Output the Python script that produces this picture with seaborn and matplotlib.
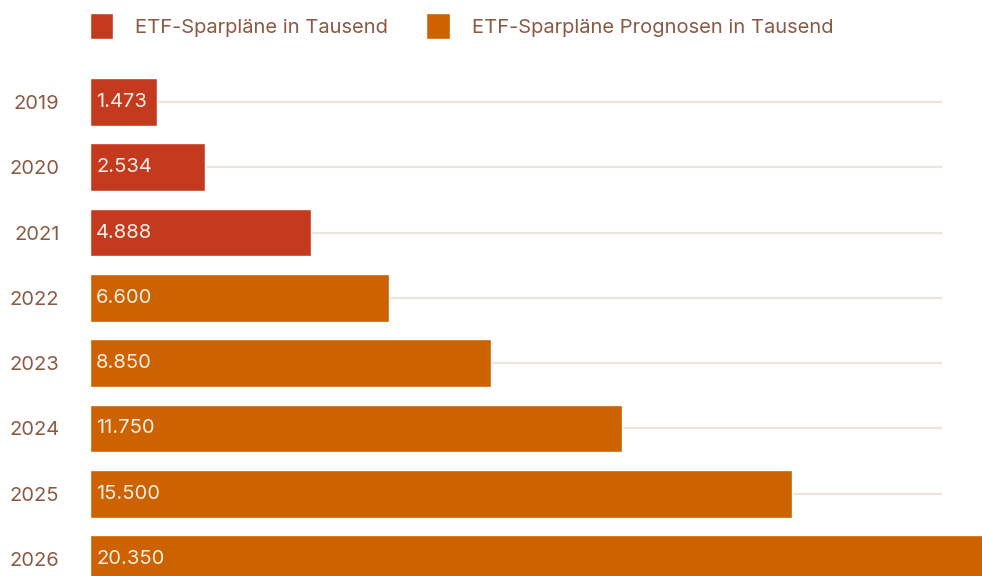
import matplotlib
matplotlib.use("Agg")
import matplotlib.pyplot as plt
import seaborn as sns
import pandas as pd
from matplotlib.transforms import offset_copy

# data (ETF-Sparpläne in Tausend)
jahre = ["2019", "2020", "2021", "2022", "2023", "2024", "2025", "2026"]
werte = [1473, 2534, 4888, 6600, 8850, 11750, 15500, 20350]
typen = ["ETF-Sparpläne in Tausend"] * 3 + ["ETF-Sparpläne Prognosen in Tausend"] * 5

farben = {"ETF-Sparpläne in Tausend": "#c43a1f",
          "ETF-Sparpläne Prognosen in Tausend": "#cc6200"}
text_braun = "#8a5a44"

df = pd.DataFrame({"jahr": jahre, "wert": werte, "typ": typen})

sns.set_theme(style="white")
plt.rcParams["font.family"] = ["Inter", "DejaVu Sans"]

W, H = 982, 576
fig = plt.figure(figsize=(W / 100, H / 100), dpi=100)
# axes: left edge 90px, right edge 942px (grid end), top 70px, bottom = figure bottom
ax = fig.add_axes([90 / W, 0, (942 - 90) / W, (H - 70) / H])

sns.barplot(data=df, x="wert", y="jahr", hue="typ", palette=farben,
            dodge=False, width=0.73, orient="h", saturation=1, ax=ax, legend=True)

for p in ax.patches:
    p.set_clip_on(False)
    p.set_zorder(3)

px_per_unit = 45.3 / 1000
ax.set_xlim(0, (942 - 90) / px_per_unit)
ax.set_ylim(7.26, -0.49)

ax.grid(axis="y", color="#ede5dc", linewidth=1.6, zorder=0)
ax.grid(axis="x", visible=False)
ax.set_axisbelow(True)
sns.despine(ax=ax, left=True, bottom=True)
ax.set_xticks([])
ax.set_xlabel("")
ax.set_ylabel("")
ax.tick_params(axis="y", length=0, pad=22, labelsize=14.5, labelcolor=text_braun)

# value labels inside bars
trans = offset_copy(ax.transData, fig=fig, x=6, y=0, units="dots")
for i, v in enumerate(werte):
    ax.text(0, i, f"{v:,}".replace(",", "."), transform=trans, ha="left",
            va="center", color="#fbeee6", fontsize=14.5, zorder=5)

# legend at top
handles, labels = ax.get_legend_handles_labels()
ax.legend_.remove()
fig.legend(handles, labels, loc="center left", bbox_to_anchor=(90 / W, 1 - 26 / H),
           ncol=2, frameon=False, fontsize=14.5, labelcolor=text_braun,
           handlelength=1.15, handleheight=1.55, handletextpad=1.1,
           columnspacing=1.9, borderaxespad=0, borderpad=0)

fig.savefig("out.png", dpi=100)
